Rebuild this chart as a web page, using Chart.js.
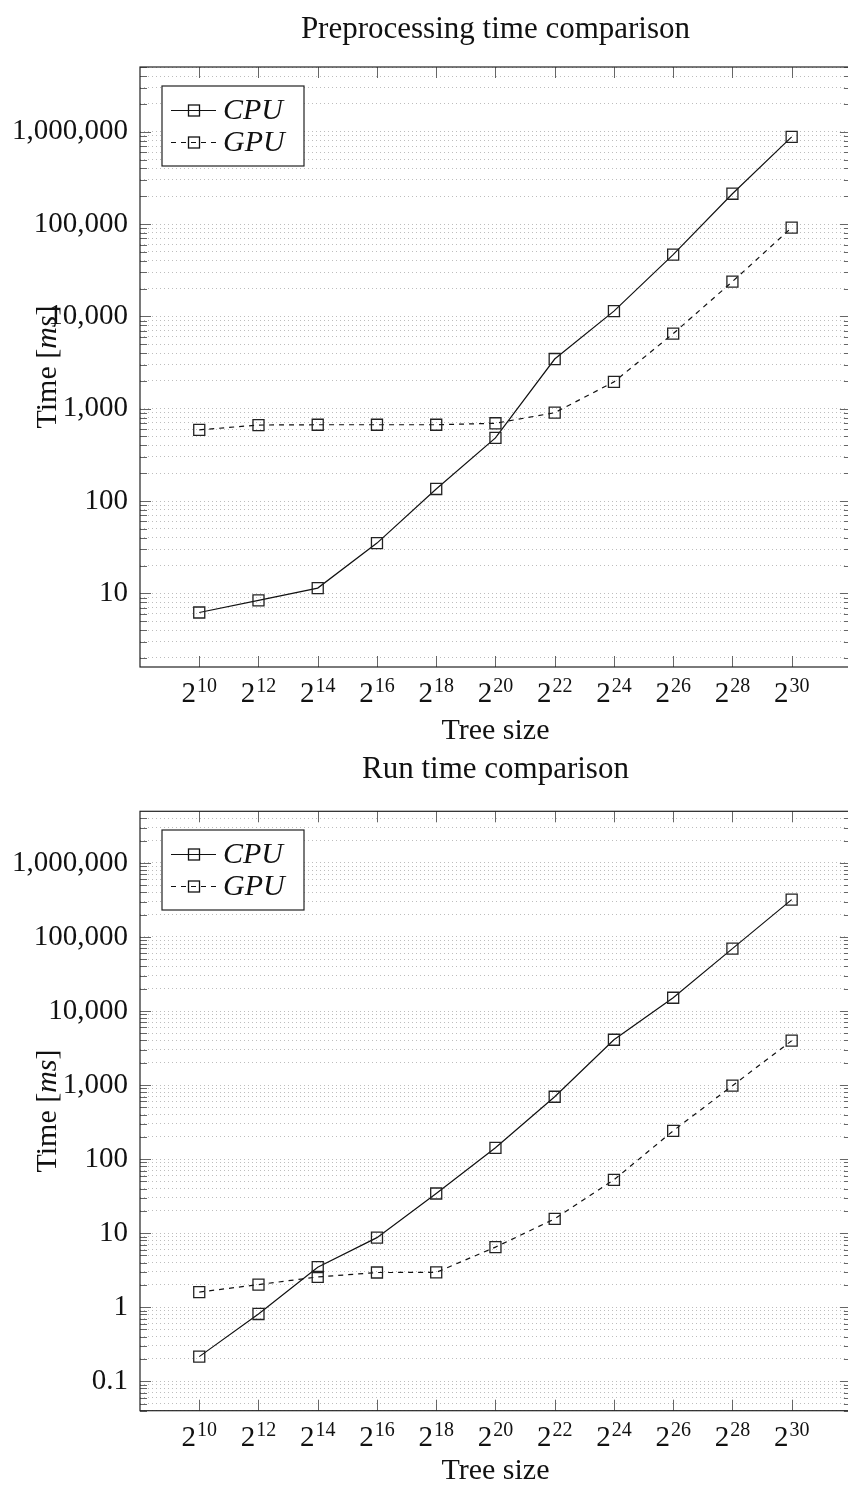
<!DOCTYPE html>
<html><head><meta charset="utf-8">
<script src="https://cdn.jsdelivr.net/npm/chart.js@4.4.1/dist/chart.umd.min.js"></script>
<style>
html,body{margin:0;padding:0;background:#fff;overflow:hidden;width:848px;height:1486px;}
canvas{position:absolute;left:0;}
#c1{top:0}
#c2{top:750px}
</style></head><body>
<canvas id="c1" width="860" height="750"></canvas>
<canvas id="c2" width="860" height="736"></canvas>
<script>
// ---- data ----
const exponents = [10, 12, 14, 16, 18, 20, 22, 24, 26, 28, 30];   // tree size = 2^exponent
const xTickBase = '2';
const seriesNames = ['CPU', 'GPU'];
const preCPU = [6.2, 8.4, 11.4, 35, 135, 482, 3450, 11400, 46600, 213000, 879000];
const preGPU = [590, 665, 670, 670, 670, 695, 905, 1950, 6500, 23800, 91400];
const runCPU = [0.215, 0.81, 3.47, 8.7, 34.3, 142, 695, 4090, 15100, 69500, 319000];
const runGPU = [1.6, 2.02, 2.56, 2.94, 2.95, 6.47, 15.6, 52.5, 241, 980, 3970];
const titles = ['Preprocessing time comparison', 'Run time comparison'];
const xTitle = 'Tree size';
const yTitleParts = ['Time [', 'ms', ']'];

const SERIF = '"Liberation Serif", "DejaVu Serif", serif';

function isDecade(v){ const l = Math.log10(v); return Math.abs(l - Math.round(l)) < 1e-9; }

const decoPlugin = {
  id: 'deco',
  beforeDatasetsDraw(chart, args, o) {
    const ctx = chart.ctx, a = chart.chartArea, xs = chart.scales.x, ys = chart.scales.y;
    ctx.save();
    ctx.strokeStyle = '#666'; ctx.lineWidth = 1;
    ctx.beginPath();
    xs.ticks.forEach(t => {
      const px = Math.round(xs.getPixelForValue(t.value)) + 0.5;
      ctx.moveTo(px, a.bottom); ctx.lineTo(px, a.bottom - 11);
      ctx.moveTo(px, a.top); ctx.lineTo(px, a.top + 11);
    });
    ys.ticks.forEach(t => {
      const py = Math.round(ys.getPixelForValue(t.value)) + 0.5;
      const len = isDecade(t.value) ? 11 : 7;
      ctx.moveTo(a.left, py); ctx.lineTo(a.left + len, py);
      ctx.moveTo(a.right, py); ctx.lineTo(a.right - len, py);
    });
    ctx.stroke();
    ctx.strokeStyle = '#222'; ctx.lineWidth = 1.2;
    ctx.strokeRect(a.left, a.top, a.right - a.left, a.bottom - a.top);
    ctx.restore();
  },
  afterDraw(chart, args, o) {
    const ctx = chart.ctx, a = chart.chartArea, xs = chart.scales.x;
    ctx.save();
    ctx.fillStyle = '#111';
    // x tick labels 2^n with raised exponent
    xs.ticks.forEach(t => {
      const px = xs.getPixelForValue(t.value);
      ctx.font = '29px ' + SERIF;
      const wb = ctx.measureText(xTickBase).width;
      ctx.font = '20px ' + SERIF;
      const we = ctx.measureText(String(t.value)).width;
      const x0 = px - (wb + we + 1) / 2;
      ctx.textAlign = 'left'; ctx.textBaseline = 'alphabetic';
      ctx.font = '29px ' + SERIF;
      ctx.fillText(xTickBase, x0, a.bottom + 35);
      ctx.font = '20px ' + SERIF;
      ctx.fillText(String(t.value), x0 + wb + 1, a.bottom + 25);
    });
    // chart title
    ctx.font = '31px ' + SERIF;
    ctx.textAlign = 'center'; ctx.textBaseline = 'middle';
    ctx.fillText(o.title, (a.left + a.right) / 2, o.titleY);
    // y axis title (rotated, "ms" italic)
    ctx.translate(o.yTitleX, (a.top + a.bottom) / 2);
    ctx.rotate(-Math.PI / 2);
    const fonts = ['30px ' + SERIF, 'italic 30px ' + SERIF, '30px ' + SERIF];
    const widths = yTitleParts.map((s, i) => { ctx.font = fonts[i]; return ctx.measureText(s).width; });
    let x = -widths.reduce((p, c) => p + c, 0) / 2;
    ctx.textAlign = 'left';
    yTitleParts.forEach((s, i) => { ctx.font = fonts[i]; ctx.fillText(s, x, 0); x += widths[i]; });
    ctx.restore();
    // legend
    ctx.save();
    const lx = a.left + 22, ly = a.top + o.legendOff, lw = 142, lh = 80;
    ctx.fillStyle = '#fff';
    ctx.fillRect(lx, ly, lw, lh);
    ctx.strokeStyle = '#222'; ctx.lineWidth = 1.2;
    ctx.strokeRect(lx, ly, lw, lh);
    const rows = [23.5, 56];
    chart.data.datasets.forEach((ds, i) => {
      const ry = Math.round(ly + rows[i]) + 0.5;
      ctx.strokeStyle = ds.borderColor; ctx.lineWidth = ds.borderWidth;
      ctx.setLineDash(ds.borderDash || []);
      ctx.beginPath(); ctx.moveTo(lx + 9, ry); ctx.lineTo(lx + 54, ry); ctx.stroke();
      ctx.setLineDash([]);
      ctx.lineWidth = 1.3;
      ctx.strokeRect(lx + 32 - 5.5, ry - 5.5, 11, 11);
      ctx.fillStyle = '#111';
      ctx.font = 'italic 30px ' + SERIF;
      ctx.textAlign = 'left'; ctx.textBaseline = 'middle';
      ctx.fillText(ds.label, lx + 61, ry + 1);
    });
    ctx.restore();
  }
};

function makeChart(id, cpu, gpu, cfg) {
  const datasets = [cpu, gpu].map((arr, i) => ({
    label: seriesNames[i],
    data: exponents.map((e, j) => ({x: e, y: arr[j]})),
    borderColor: '#111', borderWidth: 1.2,
    borderDash: i === 1 ? [5, 5] : [],
    pointStyle: 'rect', pointRadius: 7.8, pointHoverRadius: 7.8,
    pointBorderColor: '#222', pointBorderWidth: 1.3,
    pointBackgroundColor: 'rgba(0,0,0,0)',
    fill: false, tension: 0
  }));
  return new Chart(document.getElementById(id), {
    type: 'line',
    data: {datasets},
    plugins: [decoPlugin],
    options: {
      responsive: false, animation: false, devicePixelRatio: 1,
      layout: {padding: {top: cfg.padTop, right: 5.5, left: 0, bottom: 0}},
      plugins: {
        legend: {display: false}, title: {display: false}, tooltip: {enabled: false},
        deco: {title: cfg.title, titleY: cfg.titleY, yTitleX: 48, legendOff: cfg.legendOff}
      },
      scales: {
        x: {
          type: 'linear', min: 8, max: 32,
          afterBuildTicks: s => { s.ticks = exponents.map(v => ({value: v})); },
          afterFit: s => { s.height = cfg.xHeight; },
          grid: {display: false, drawTicks: false},
          border: {display: false},
          ticks: {display: false},
          title: {display: true, text: xTitle, color: '#111',
                  font: {family: SERIF, size: 30, lineHeight: 1},
                  padding: {top: 0, bottom: cfg.xTitlePad}}
        },
        y: {
          type: 'logarithmic', min: cfg.ymin, max: cfg.ymax,
          afterBuildTicks: s => {
            const t = [];
            for (let k = Math.floor(Math.log10(cfg.ymin)); k <= Math.ceil(Math.log10(cfg.ymax)); k++) {
              for (let m = 1; m <= 9; m++) {
                const v = parseFloat((m * Math.pow(10, k)).toPrecision(6));
                if (v >= cfg.ymin && v <= cfg.ymax) t.push({value: v, major: m === 1});
              }
            }
            s.ticks = t;
          },
          afterFit: s => { s.width = 140; },
          grid: {display: true, drawTicks: false, color: '#bdbdbd', lineWidth: 1},
          border: {display: false, dash: [1, 3]},
          ticks: {autoSkip: false, padding: 12, color: '#111',
                  font: {family: SERIF, size: 29},
                  callback: v => isDecade(v) ? Number(v).toLocaleString('en-US') : ''}
        }
      }
    }
  });
}

makeChart('c1', preCPU, preGPU, {
  title: titles[0], titleY: 30, padTop: 67, xHeight: 83, xTitlePad: 4, legendOff: 19,
  ymin: Math.pow(10, 0.202), ymax: Math.pow(10, 6.701)
});
makeChart('c2', runCPU, runGPU, {
  title: titles[1], titleY: 20, padTop: 61.3, xHeight: 75.3, xTitlePad: 0, legendOff: 18.7,
  ymin: Math.pow(10, -1.398), ymax: Math.pow(10, 6.697)
});
</script>
</body></html>
